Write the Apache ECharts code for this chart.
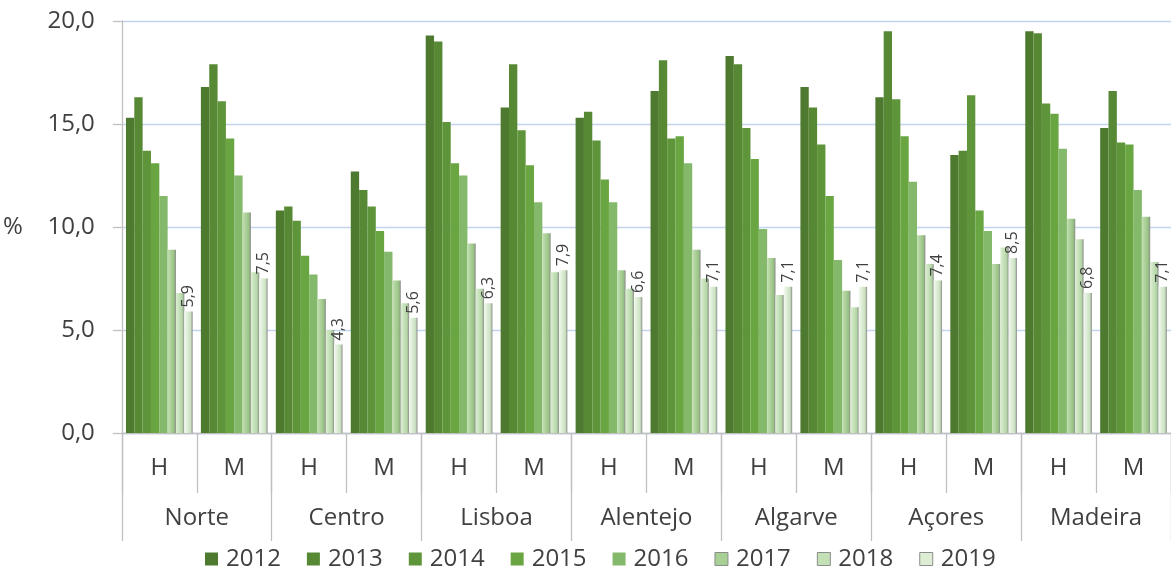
<!DOCTYPE html>
<html><head><meta charset="utf-8">
<script src="https://cdn.jsdelivr.net/npm/echarts@6/dist/echarts.min.js"></script>
<style>html,body{margin:0;padding:0;background:#fff}#c{width:1171px;height:567px}</style>
</head><body><div id="c"></div>
<script>
const regions = ['Norte','Centro','Lisboa','Alentejo','Algarve','Açores','Madeira'];
const sexes = ['H','M'];
const years = ['2012','2013','2014','2015','2016','2017','2018','2019'];
// values per category (Norte H, Norte M, Centro H, ...), one array per year
const s2012 = [15.3,16.8,10.8,12.7,19.3,15.8,15.3,16.6,18.3,16.8,16.3,13.5,19.5,14.8];
const s2013 = [16.3,17.9,11.0,11.8,19.0,17.9,15.6,18.1,17.9,15.8,19.5,13.7,19.4,16.6];
const s2014 = [13.7,16.1,10.3,11.0,15.1,14.7,14.2,14.3,14.8,14.0,16.2,16.4,16.0,14.1];
const s2015 = [13.1,14.3,8.6,9.8,13.1,13.0,12.3,14.4,13.3,11.5,14.4,10.8,15.5,14.0];
const s2016 = [11.5,12.5,7.7,8.8,12.5,11.2,11.2,13.1,9.9,8.4,12.2,9.8,13.8,11.8];
const s2017 = [8.9,10.7,6.5,7.4,9.2,9.7,7.9,8.9,8.5,6.9,9.6,8.2,10.4,10.5];
const s2018 = [6.8,7.8,5.0,6.3,7.0,7.8,7.0,7.5,6.7,6.1,8.2,9.0,9.4,8.3];
const s2019 = [5.9,7.5,4.3,5.6,6.3,7.9,6.6,7.1,7.1,7.1,7.4,8.5,6.8,7.1];
const yTicks = ['0,0','5,0','10,0','15,0','20,0'];

const seriesData = [s2012,s2013,s2014,s2015,s2016,s2017,s2018,s2019];
const categories = [];
regions.forEach(r => sexes.forEach(s => categories.push(s)));

const baseColors = ['#4e7a2f','#578935','#5f953a','#69a642','#84b86a','#a9d094','#c4e0b6','#dcedd3'];
const FONT = '"Open Sans", Lato, sans-serif';
const txt = '#404040';

function barColor(i){
  if (i < 5) return baseColors[i];
  const light = ['#c3e0b3','#dcefd2','#f2f9ee'][i-5];
  const dark = ['#98c283','#b3d5a5','#c9e1bf'][i-5];
  return new echarts.graphic.LinearGradient(0,0,1,0,[
    {offset:0,color:light},{offset:0.75,color:dark},{offset:1,color:'#8c8c8c'}
  ]);
}

const series = years.map((y,i) => ({
  name: y,
  type: 'bar',
  data: seriesData[i],
  barGap: '0%',
  barCategoryGap: '11%',
  itemStyle: { color: barColor(i) },
  label: i === 7 ? {
    show: true, position: 'top', rotate: 90, align: 'left', verticalAlign: 'middle',
    distance: 4, fontSize: 16, color: txt, fontFamily: FONT,
    formatter: p => p.value.toFixed(1).replace('.', ',')
  } : { show: false }
}));

const chart = echarts.init(document.getElementById('c'), null, {renderer:'canvas'});
chart.setOption({
  animation: false,
  color: baseColors,
  grid: { left: 120, right: 0, top: 21, bottom: 134 },
  legend: {
    data: years.map((y,i)=>({name:y, itemStyle:{color: baseColors[i], borderColor: i<5?baseColors[i]:'#8c8c8c', borderWidth: i<5?0:1}})),
    left: 200, top: 542, icon: 'rect', itemWidth: 13, itemHeight: 13, itemGap: 26,
    textStyle: { fontSize: 24, color: txt, fontFamily: FONT, padding: [0,0,0,3] }
  },
  xAxis: [
    {
      type: 'category', data: categories, position: 'bottom',
      axisLine: { show: true, lineStyle: { color: '#bfbfbf', width: 1.3 } },
      axisTick: { show: true, length: 60, lineStyle: { color: '#bfbfbf', width: 1.3 } },
      axisLabel: { margin: 23, fontSize: 24, color: txt, fontFamily: FONT, interval: 0 },
      splitLine: { show: false }
    },
    {
      type: 'category', data: regions, position: 'bottom',
      axisLine: { show: false },
      axisTick: { show: true, length: 108, lineStyle: { color: '#bfbfbf', width: 1.3 } },
      axisLabel: { margin: 73, fontSize: 24, color: txt, fontFamily: FONT, interval: 0 },
      splitLine: { show: false }
    }
  ],
  yAxis: {
    type: 'value', min: 0, max: 20, interval: 5,
    name: '%', nameLocation: 'middle', nameRotate: 0, nameGap: 99,
    nameTextStyle: { fontSize: 24, color: txt, fontFamily: FONT },
    axisLine: { show: true, lineStyle: { color: '#bfbfbf', width: 1.3 } },
    axisTick: { show: true, length: 9, lineStyle: { color: '#bfbfbf', width: 1.3 } },
    axisLabel: { margin: 27, fontSize: 24, color: txt, fontFamily: FONT,
      formatter: v => yTicks[Math.round(v/5)] },
    splitLine: { show: true, lineStyle: { color: '#c4d3ee', width: 1.3 } }
  },
  series: series
});
</script></body></html>
